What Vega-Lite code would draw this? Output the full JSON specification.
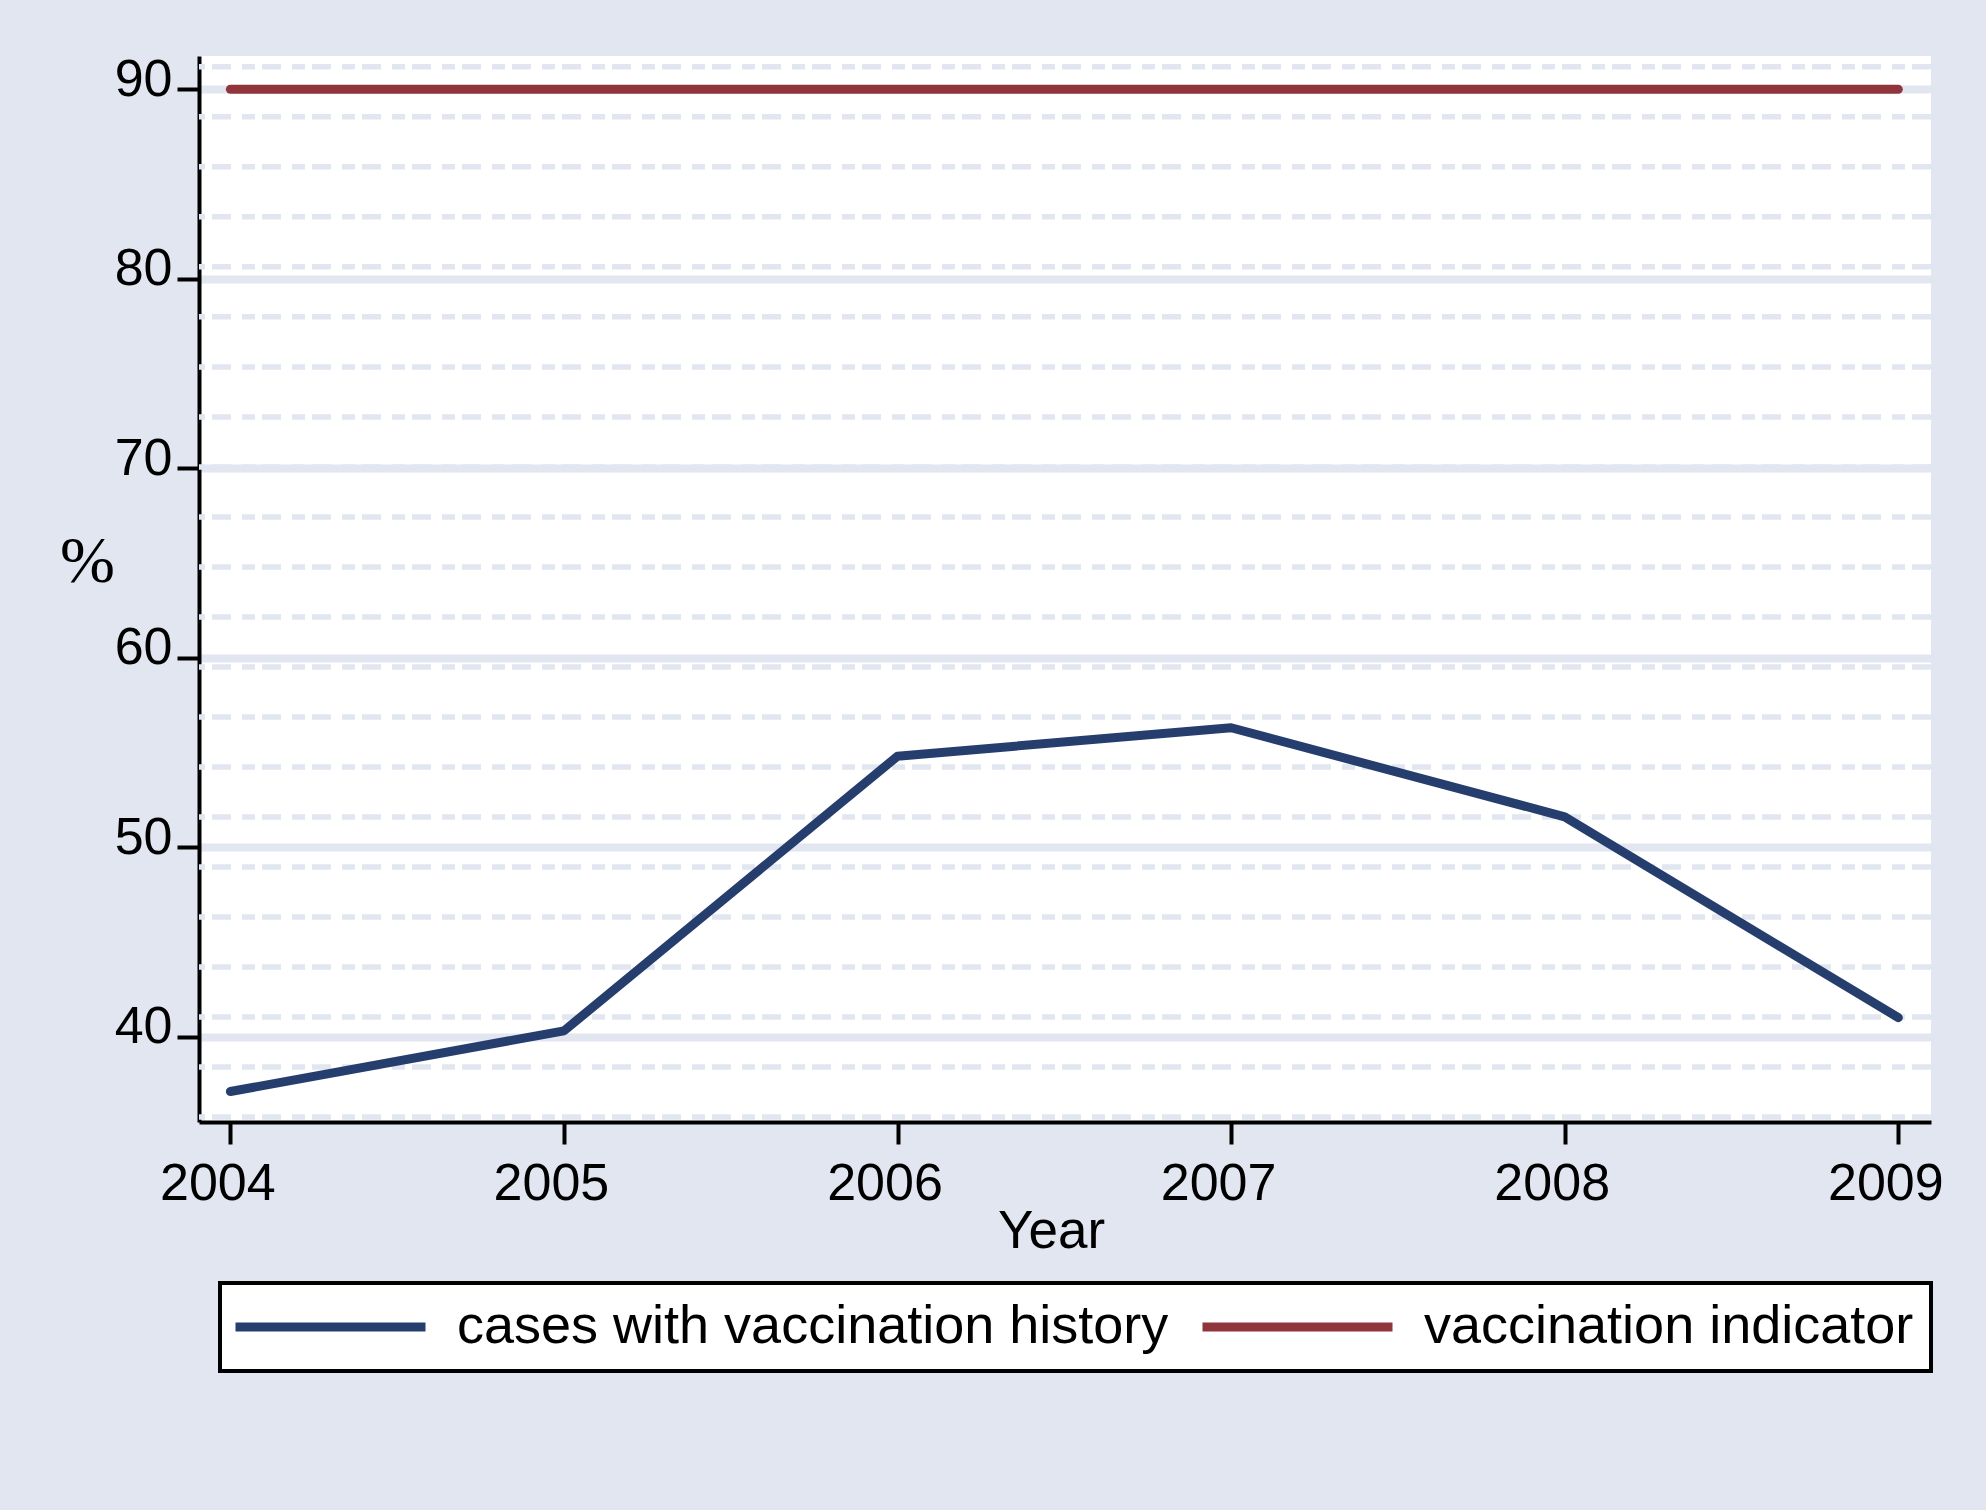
{
  "$schema": "https://vega.github.io/schema/vega-lite/v6.json",
  "width": 1732,
  "height": 1066,
  "autosize": {"type": "none"},
  "padding": {"left": 199, "top": 56, "right": 55, "bottom": 388},
  "background": "#E1E6F0",
  "config": {
    "view": {"fill": "white", "stroke": null},
    "font": "Liberation Sans",
    "legend": {"strokeWidth": 4}
  },
  "datasets": {
    "series": [
      {"year": 2004, "value": 37.1, "series": "cases with vaccination history"},
      {"year": 2005, "value": 40.3, "series": "cases with vaccination history"},
      {"year": 2006, "value": 54.8, "series": "cases with vaccination history"},
      {"year": 2007, "value": 56.3, "series": "cases with vaccination history"},
      {"year": 2008, "value": 51.6, "series": "cases with vaccination history"},
      {"year": 2009, "value": 41.0, "series": "cases with vaccination history"},
      {"year": 2004, "value": 90, "series": "vaccination indicator"},
      {"year": 2005, "value": 90, "series": "vaccination indicator"},
      {"year": 2006, "value": 90, "series": "vaccination indicator"},
      {"year": 2007, "value": 90, "series": "vaccination indicator"},
      {"year": 2008, "value": 90, "series": "vaccination indicator"},
      {"year": 2009, "value": 90, "series": "vaccination indicator"}
    ],
    "dashes": [
      {"value": 91.19}, {"value": 88.55}, {"value": 85.91}, {"value": 83.27},
      {"value": 80.63}, {"value": 77.99}, {"value": 75.35}, {"value": 72.71},
      {"value": 70.07}, {"value": 67.43}, {"value": 64.79}, {"value": 62.15},
      {"value": 59.51}, {"value": 56.87}, {"value": 54.23}, {"value": 51.59},
      {"value": 48.95}, {"value": 46.31}, {"value": 43.67}, {"value": 41.03},
      {"value": 38.39}, {"value": 35.75}
    ]
  },
  "encoding": {
    "y": {
      "field": "value",
      "type": "quantitative",
      "scale": {"domain": [35.49, 91.76], "nice": false, "zero": false},
      "axis": {
        "title": "%",
        "values": [40, 50, 60, 70, 80, 90],
        "format": "d",
        "grid": true,
        "gridColor": "#E1E6F0",
        "gridWidth": 8,
        "domainColor": "black",
        "domainWidth": 4,
        "tickColor": "black",
        "tickWidth": 4,
        "tickSize": 22,
        "labelFont": "Liberation Sans",
        "labelFontSize": 52,
        "labelColor": "black",
        "labelPadding": 5,
        "labelBaseline": "alphabetic",
        "labelOffset": 6,
        "labelOverlap": false,
        "labelFlush": false,
        "titleFont": "Liberation Serif",
        "titleFontSize": 66,
        "titleFontWeight": "normal",
        "titleColor": "black",
        "titleAngle": 0,
        "titleAlign": "center",
        "titleBaseline": "alphabetic",
        "titleX": -112,
        "titleY": 525
      }
    }
  },
  "layer": [
    {
      "data": {"name": "dashes"},
      "mark": {"type": "rule", "color": "#E1E6F0", "strokeWidth": 5.5, "strokeDash": [19, 7, 13, 11]}
    },
    {
      "data": {"name": "series"},
      "mark": {"type": "line", "strokeWidth": 9, "strokeCap": "round", "strokeJoin": "round"},
      "encoding": {
        "x": {
          "field": "year",
          "type": "quantitative",
          "scale": {"domain": [2003.906, 2009.098], "nice": false, "zero": false},
          "axis": {
            "title": "Year",
            "values": [2004, 2005, 2006, 2007, 2008, 2009],
            "format": "d",
            "grid": false,
            "domainColor": "black",
            "domainWidth": 4,
            "tickColor": "black",
            "tickWidth": 4,
            "tickSize": 22,
            "labelFont": "Liberation Sans",
            "labelFontSize": 52,
            "labelColor": "black",
            "labelPadding": 55,
            "labelBaseline": "alphabetic",
            "labelOffset": -13,
            "labelOverlap": false,
            "labelFlush": false,
            "titleFont": "Liberation Sans",
            "titleFontSize": 53,
            "titleFontWeight": "normal",
            "titleColor": "black",
            "titleAlign": "center",
            "titleBaseline": "alphabetic",
            "titleX": 852,
            "titleY": 125
          }
        },
        "color": {
          "field": "series",
          "type": "nominal",
          "scale": {
            "domain": ["cases with vaccination history", "vaccination indicator"],
            "range": ["#263E6E", "#90353B"]
          },
          "legend": {
            "title": null,
            "orient": "none",
            "legendX": 21,
            "legendY": 1227,
            "direction": "horizontal",
            "symbolType": "M-1.5,0H8.5",
            "symbolSize": 1444,
            "symbolStrokeWidth": 9,
            "labelFont": "Liberation Sans",
            "labelFontSize": 54,
            "labelColor": "black",
            "labelLimit": 0,
            "labelOffset": 166,
            "columnPadding": 15,
            "padding": 17,
            "strokeColor": "black",
            "fillColor": "white"
          }
        }
      }
    }
  ]
}
